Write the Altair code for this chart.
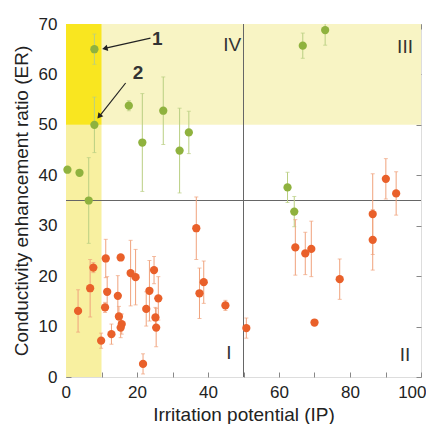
import altair as alt
import pandas as pd

# ---- data ----
green_x = [0.4, 3.8, 6.4, 8.0, 8.0, 17.7, 21.5, 27.4, 32.0, 34.6, 62.4, 64.3, 66.7, 73.0]
green_y = [41.1, 40.5, 35.0, 50.0, 65.0, 53.8, 46.5, 52.8, 44.9, 48.5, 37.6, 32.8, 65.7, 68.8]
green_e = [0.0, 0.0, 8.5, 5.5, 3.0, 1.0, 9.7, 6.7, 8.4, 4.2, 3.0, 3.0, 2.5, 3.0]

orange_x = [3.4, 6.8, 7.7, 9.9, 11.2, 11.6, 11.0, 12.8, 14.6, 14.9, 15.4, 15.7, 15.4,
            18.2, 19.6, 21.7, 22.6, 23.5, 24.8, 25.2, 25.4, 26.0, 36.7, 37.6, 38.8,
            44.9, 50.8, 64.6, 67.4, 69.1, 70.0, 77.1, 86.4, 86.4, 90.1, 93.0]
orange_y = [13.1, 17.6, 21.7, 7.2, 23.5, 16.9, 13.8, 8.5, 16.1, 12.0, 23.7, 10.5, 9.8,
            20.6, 19.8, 2.6, 13.5, 17.1, 21.2, 11.8, 9.8, 15.6, 29.5, 16.6, 18.8,
            14.2, 9.7, 25.7, 24.5, 25.4, 10.8, 19.4, 32.3, 27.2, 39.3, 36.4]
orange_e = [4.2, 5.7, 1.0, 1.5, 3.8, 3.0, 1.0, 2.0, 4.0, 2.0, 0.5, 2.0, 2.0,
            6.5, 5.5, 2.0, 3.4, 6.0, 2.7, 2.0, 3.8, 4.3, 6.2, 5.0, 4.2,
            1.0, 2.0, 5.5, 4.2, 5.5, 0.5, 4.0, 8.0, 6.0, 4.0, 4.3]

region_x0 = [0, 0, 0]
region_x1 = [100, 10, 10]
region_y0 = [50, 0, 50]
region_y1 = [70, 50, 70]
region_kind = ["band", "strip", "corner"]

quad_labels = ["I", "II", "III", "IV"]
quad_x = [45.9, 95.5, 95.5, 46.8]
quad_y = [4.8, 4.4, 65.5, 65.9]

ann_labels = ["1", "2"]
ann_x = [25.7, 20.3]
ann_y = [67.0, 60.2]
arrow_x0 = [23.8, 16.8]
arrow_y0 = [67.2, 58.3]
arrow_x1 = [11.2, 9.5]
arrow_y1 = [65.2, 51.8]
arrow_angle = [257, 219]

x_ticks = [0, 10, 20, 30, 40, 50, 60, 70, 80, 90, 100]
x_labels = [0, 20, 40, 60, 80, 100]
y_ticks = [0, 10, 20, 30, 40, 50, 60, 70]

line_x = [50]
line_y = [35]

# ---- tables ----
pts = pd.DataFrame({
    "x": green_x + orange_x,
    "y": green_y + orange_y,
    "e": green_e + orange_e,
    "g": ["green"] * len(green_x) + ["orange"] * len(orange_x),
})
regions = pd.DataFrame({"x0": region_x0, "x1": region_x1, "y0": region_y0,
                        "y1": region_y1, "kind": region_kind})
quads = pd.DataFrame({"t": quad_labels, "x": quad_x, "y": quad_y})
anns = pd.DataFrame({"t": ann_labels, "x": ann_x, "y": ann_y})
arrows = pd.DataFrame({"x0": arrow_x0, "y0": arrow_y0, "x1": arrow_x1,
                       "y1": arrow_y1, "a": arrow_angle})

xs = alt.Scale(domain=[0, 100], nice=False, zero=False)
ys = alt.Scale(domain=[0, 70], nice=False, zero=False)

FONT = "Liberation Sans"

main_x_axis = alt.Axis(values=x_labels, ticks=False, domain=False, grid=False,
                       labelPadding=7, labelFontSize=17, labelFlush=True,
                       labelFlushOffset=5,
                       labelOverlap=False, titleFontSize=19, titleFontWeight="normal",
                       titlePadding=5, labelColor="#222", titleColor="#222",
                       title="Irritation potential (IP)", labelFont=FONT, titleFont=FONT)
main_y_axis = alt.Axis(values=y_ticks, ticks=False, domain=False, grid=False,
                       labelPadding=9, labelFontSize=17, labelFlush=False,
                       labelOverlap=False, titleFontSize=19, titleFontWeight="normal",
                       titlePadding=7, labelColor="#222", titleColor="#222",
                       title="Conductivity enhancement ratio (ER)", labelFont=FONT,
                       titleFont=FONT)

def tick_axis(orient, values):
    return alt.Axis(orient=orient, values=values, labels=False, domain=False,
                    grid=False, ticks=True, tickSize=5, offset=-5,
                    tickColor="#888", tickWidth=1, title=None,
                    minExtent=0, maxExtent=0)

reg_color = alt.Color("kind:N", scale=alt.Scale(domain=region_kind,
                      range=["#f8f4c4", "#f8f0a0", "#f9e620"]), legend=None)

rects = alt.Chart(regions).mark_rect(opacity=1).encode(
    x=alt.X("x0:Q", scale=xs, axis=main_x_axis),
    x2="x1",
    y=alt.Y("y0:Q", scale=ys, axis=main_y_axis),
    y2="y1",
    color=reg_color,
)

vline = alt.Chart(pd.DataFrame({"x": line_x})).mark_rule(color="#666", strokeWidth=1).encode(
    x=alt.X("x:Q", scale=xs, axis=tick_axis("bottom", x_ticks)),
    y=alt.value(0), y2=alt.value(353),
)
hline = alt.Chart(pd.DataFrame({"y": line_y})).mark_rule(color="#666", strokeWidth=1).encode(
    y=alt.Y("y:Q", scale=ys, axis=tick_axis("left", y_ticks)),
    x=alt.value(0), x2=alt.value(355),
)

err_color = alt.Color("g:N", scale=alt.Scale(domain=["green", "orange"],
                      range=["#b9cf82", "#f0a27c"]), legend=None)
pt_color = alt.Color("g:N", scale=alt.Scale(domain=["green", "orange"],
                     range=["#8fb23e", "#e9602a"]), legend=None)

base = alt.Chart(pts).transform_calculate(lo="datum.y - datum.e", hi="datum.y + datum.e")

errs = base.mark_rule(strokeWidth=1, clip=True).encode(
    x=alt.X("x:Q", scale=xs, axis=tick_axis("top", x_ticks)),
    y=alt.Y("lo:Q", scale=ys, axis=tick_axis("right", y_ticks)),
    y2="hi:Q",
    color=err_color,
)
caps_lo = base.mark_tick(orient="horizontal", size=4, thickness=1, clip=True).encode(
    x=alt.X("x:Q", scale=xs, axis=None),
    y=alt.Y("lo:Q", scale=ys, axis=None),
    color=err_color,
)
caps_hi = base.mark_tick(orient="horizontal", size=4, thickness=1, clip=True).encode(
    x=alt.X("x:Q", scale=xs, axis=None),
    y=alt.Y("hi:Q", scale=ys, axis=None),
    color=err_color,
)
dots = alt.Chart(pts).mark_circle(size=68, opacity=1).encode(
    x=alt.X("x:Q", scale=xs, axis=None),
    y=alt.Y("y:Q", scale=ys, axis=None),
    color=pt_color,
)

quad_text = alt.Chart(quads).mark_text(font=FONT, fontSize=19, color="#333",
                                       align="center", baseline="middle").encode(
    x=alt.X("x:Q", scale=xs, axis=None),
    y=alt.Y("y:Q", scale=ys, axis=None),
    text="t:N",
)
ann_text = alt.Chart(anns).mark_text(font=FONT, fontSize=19, fontWeight="bold",
                                     color="#333", align="center",
                                     baseline="middle").encode(
    x=alt.X("x:Q", scale=xs, axis=None),
    y=alt.Y("y:Q", scale=ys, axis=None),
    text="t:N",
)
arrow_lines = alt.Chart(arrows).mark_rule(color="#222", strokeWidth=1.2).encode(
    x=alt.X("x0:Q", scale=xs, axis=None), x2="x1",
    y=alt.Y("y0:Q", scale=ys, axis=None), y2="y1",
)
arrow_heads = alt.Chart(arrows).mark_point(shape="triangle", filled=True, size=40,
                                           color="#222", opacity=1).encode(
    x=alt.X("x1:Q", scale=xs, axis=None),
    y=alt.Y("y1:Q", scale=ys, axis=None),
    angle=alt.Angle("a:Q", scale=None),
)

chart = alt.layer(
    rects, vline, hline, errs, caps_lo, caps_hi, dots,
    quad_text, ann_text, arrow_lines, arrow_heads,
).resolve_axis(x="independent", y="independent").resolve_scale(
    color="independent"
).properties(
    width=355, height=353,
    padding={"left": 4, "top": 7, "right": 0, "bottom": 0},
).configure_view(stroke="#888", strokeWidth=1).configure(font=FONT)

chart.save("out.html", embed_options={"renderer": "svg", "actions": False})
